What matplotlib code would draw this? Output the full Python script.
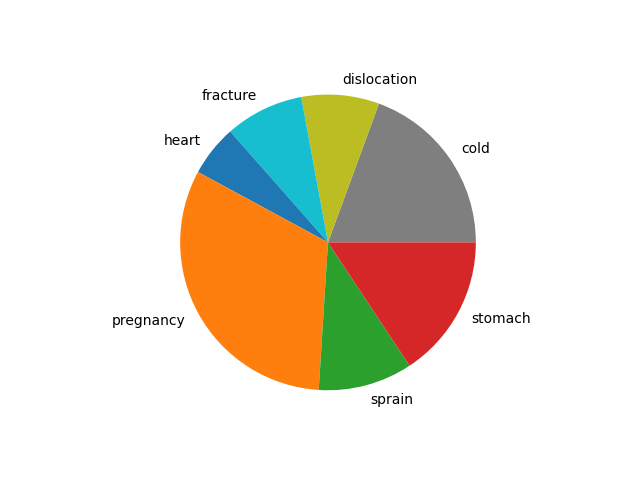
import matplotlib
matplotlib.use("Agg")
import matplotlib.pyplot as plt

# share of each complaint
labels = ['cold', 'dislocation', 'fracture', 'heart', 'pregnancy', 'sprain', 'stomach']
sizes = [19.4, 8.5, 8.6, 5.6, 31.9, 10.3, 15.7]
colors = ['#7f7f7f', '#bcbd22', '#17becf', '#1f77b4', '#ff7f0e', '#2ca02c', '#d62728']

fig, ax = plt.subplots(figsize=(6.4, 4.8), dpi=100)
ax.pie(sizes, labels=labels, colors=colors)
fig.savefig('out.png')
